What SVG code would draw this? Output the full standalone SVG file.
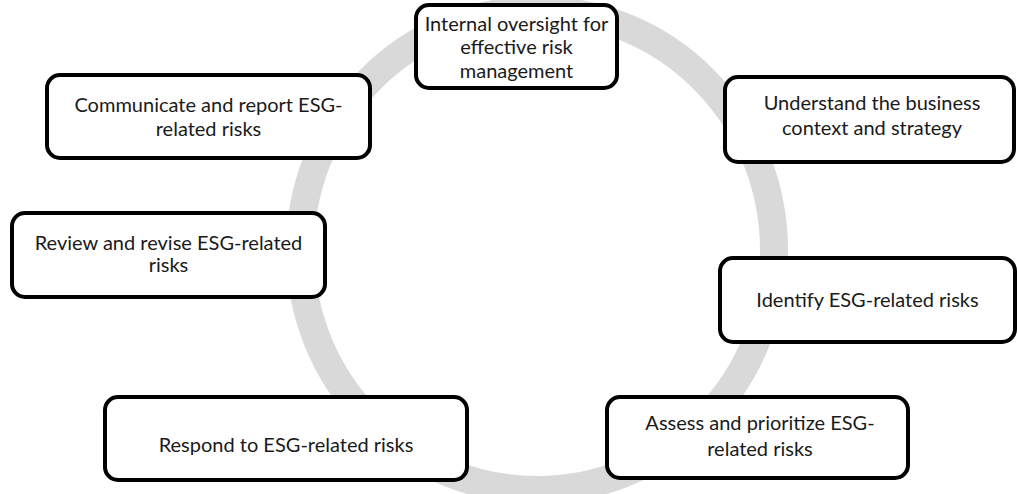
<svg xmlns="http://www.w3.org/2000/svg" width="1017" height="494" viewBox="0 0 1017 494">
  <style>
    .ring { fill: none; stroke: #d9d9d9; stroke-width: 28; }
    .box { fill: #ffffff; stroke: #000000; stroke-width: 4; }
    .label { font-family: Lato, "Liberation Sans", sans-serif; font-size: 20px; fill: #1a1a1a; text-anchor: middle; }
  </style>
  <rect width="1017" height="494" fill="#ffffff"/>
  <!-- cycle ring behind the steps -->
  <g id="connectors">
    <ellipse class="ring" cx="537" cy="250" rx="237" ry="240"/>
  </g>
  <g id="step-oversight">
    <rect class="box" x="416" y="5" width="201" height="83" rx="13"/>
    <text class="label" x="516.5" y="30.5">Internal oversight for</text>
    <text class="label" x="516.5" y="54">effective risk</text>
    <text class="label" x="516.5" y="77.5">management</text>
  </g>
  <g id="step-context">
    <rect class="box" x="725" y="77" width="289" height="85" rx="13"/>
    <text class="label" x="872" y="110">Understand the business</text>
    <text class="label" x="872" y="135">context and strategy</text>
  </g>
  <g id="step-identify">
    <rect class="box" x="720" y="258" width="295" height="84" rx="13"/>
    <text class="label" x="867.5" y="306.5">Identify ESG-related risks</text>
  </g>
  <g id="step-assess">
    <rect class="box" x="607" y="397" width="301" height="81" rx="13"/>
    <text class="label" x="760" y="430">Assess and prioritize ESG-</text>
    <text class="label" x="760" y="456">related risks</text>
  </g>
  <g id="step-respond">
    <rect class="box" x="105" y="397" width="362" height="83" rx="13"/>
    <text class="label" x="286" y="451.5">Respond to ESG-related risks</text>
  </g>
  <g id="step-review">
    <rect class="box" x="12" y="213" width="313" height="84" rx="13"/>
    <text class="label" x="168.5" y="250">Review and revise ESG-related</text>
    <text class="label" x="168.5" y="272">risks</text>
  </g>
  <g id="step-report">
    <rect class="box" x="47" y="75" width="323" height="83" rx="13"/>
    <text class="label" x="208.5" y="111.5">Communicate and report ESG-</text>
    <text class="label" x="208.5" y="136">related risks</text>
  </g>
</svg>
